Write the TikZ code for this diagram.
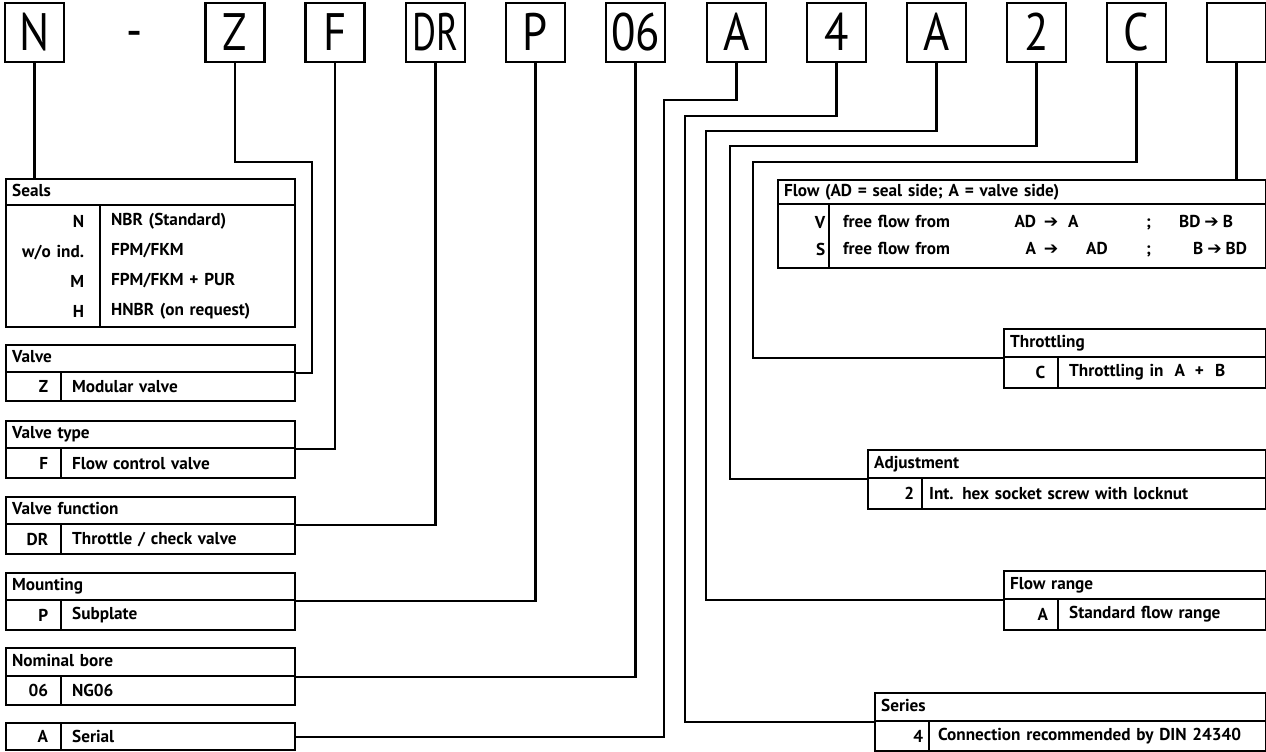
\documentclass[tikz,border=0pt]{standalone}
\usepackage{fontspec}
\usepackage{graphicx}
\setmainfont{PT Sans}
\newfontfamily\codefont[FakeStretch=0.85]{PT Sans}
\newfontfamily\arrowfont{DejaVu Sans}
\usetikzlibrary{positioning}
\newcommand{\rarr}{{\arrowfont ➔}}

\begin{document}
\begin{tikzpicture}[
    x=0.02cm, y=-0.02cm,
    codebox/.style={draw, line width=1.3pt, minimum width=1.18cm, minimum height=1.18cm, inner sep=0pt, font=\codefont\fontsize{30}{30}\selectfont, text height=21pt, text depth=0pt},
    headcell/.style={draw, line width=1.3pt, anchor=north west, inner xsep=0.12cm, inner ysep=0pt, align=left, text height=6.8pt, text depth=2pt, font=\bfseries\fontsize{9.8}{12}\selectfont},
    keycell/.style={draw, line width=1.3pt, anchor=north west, inner ysep=0pt, align=right, font=\bfseries\fontsize{9.8}{17}\selectfont},
    valcell/.style={draw, line width=1.3pt, anchor=north west, inner ysep=0pt, align=left, font=\bfseries\fontsize{9.8}{17}\selectfont},
    link/.style={line width=1.2pt}
]
\useasboundingbox (0,0) rectangle (1266,751);

% type code
\node[codebox] (bN) at (34.5,32.5) {N};
\node[codebox, draw=none] (dash) at (134.5,30) {-};
\node[codebox] (bZ) at (235,32.5) {Z};
\node[codebox] (bF) at (335,32.5) {F};
\node[codebox] (bDR) at (435.5,32.5) {\scalebox{0.82}[1]{DR}};
\node[codebox] (bP) at (535.5,32.5) {P};
\node[codebox] (b06) at (635.5,32.5) {06};
\node[codebox] (bA) at (736.5,32.5) {A};
\node[codebox] (b4) at (836.5,32.5) {4};
\node[codebox] (bAr) at (936.5,32.5) {A};
\node[codebox] (b2) at (1036.5,32.5) {2};
\node[codebox] (bC) at (1136.5,32.5) {C};
\node[codebox] (bX) at (1236.5,32.5) {};

% left tables
\node[headcell, text width=5.54cm, minimum height=0.52cm] (hseals) at (5,178) {Seals};
\node[keycell, text width=1.24cm, inner xsep=0.32cm, minimum height=2.44cm] (kseals) at (5,204) {N\\w/o ind.\\M\\H};
\node[valcell, text width=3.46cm, inner xsep=0.22cm, minimum height=2.44cm] (vseals) at (99,204) {NBR (Standard)\\FPM/FKM\\FPM/FKM + PUR\\HNBR (on request)};

\node[headcell, text width=5.54cm, minimum height=0.54cm] (hvalve) at (5,344) {Valve};
\node[keycell, text width=0.58cm, inner xsep=0.26cm, minimum height=0.58cm] (kvalve) at (5,371) {Z};
\node[valcell, text width=4.24cm, inner xsep=0.22cm, minimum height=0.58cm] (vvalve) at (60,371) {Modular valve};

\node[headcell, text width=5.54cm, minimum height=0.54cm] (hvtype) at (5,420) {Valve type};
\node[keycell, text width=0.58cm, inner xsep=0.26cm, minimum height=0.6cm] (kvtype) at (5,447) {F};
\node[valcell, text width=4.24cm, inner xsep=0.22cm, minimum height=0.6cm] (vvtype) at (60,447) {Flow control valve};

\node[headcell, text width=5.54cm, minimum height=0.54cm] (hvfunc) at (5,496) {Valve function};
\node[keycell, text width=0.58cm, inner xsep=0.26cm, minimum height=0.6cm] (kvfunc) at (5,523) {DR};
\node[valcell, text width=4.24cm, inner xsep=0.22cm, minimum height=0.6cm] (vvfunc) at (60,523) {Throttle / check valve};

\node[headcell, text width=5.54cm, minimum height=0.54cm] (hmount) at (5,572) {Mounting};
\node[keycell, text width=0.58cm, inner xsep=0.26cm, minimum height=0.6cm] (kmount) at (5,599) {P};
\node[valcell, text width=4.24cm, inner xsep=0.22cm, minimum height=0.6cm] (vmount) at (60,599) {Subplate};

\node[headcell, text width=5.54cm, minimum height=0.56cm] (hbore) at (5,647) {Nominal bore};
\node[keycell, text width=0.58cm, inner xsep=0.26cm, minimum height=0.58cm] (kbore) at (5,675) {06};
\node[valcell, text width=4.24cm, inner xsep=0.22cm, minimum height=0.58cm] (vbore) at (60,675) {NG06};

\node[keycell, text width=0.58cm, inner xsep=0.26cm, minimum height=0.54cm] (kserial) at (5,722) {A};
\node[valcell, text width=4.24cm, inner xsep=0.22cm, minimum height=0.54cm] (vserial) at (60,722) {Serial};

% right tables
\node[headcell, text width=9.52cm, minimum height=0.48cm] (hflow) at (777,179) {Flow (AD = seal side; A = valve side)};
\node[keycell, text width=0.86cm, inner xsep=0.08cm, minimum height=1.28cm, font=\bfseries\fontsize{9.8}{15.3}\selectfont] (kflow) at (777,203) {V\\S};
\node[valcell, text width=8.18cm, inner xsep=0.28cm, minimum height=1.28cm, font=\bfseries\fontsize{9.8}{15.3}\selectfont] (vflow) at (828,203)
  {\makebox[3.86cm][l]{free flow from\hfill AD}\makebox[0.6cm]{\rarr}\makebox[1.7cm][l]{\hspace{0.04cm}A\hfill;}\hspace{0.56cm}BD\hspace{0.08cm}\rarr\hspace{0.08cm}B\\
   \makebox[3.86cm][l]{free flow from\hfill A}\makebox[0.6cm]{\rarr}\makebox[1.7cm][l]{\hspace{0.4cm}AD\hfill;}\hspace{0.84cm}B\hspace{0.08cm}\rarr\hspace{0.08cm}BD};

\node[headcell, text width=5.0cm, minimum height=0.56cm] (hthr) at (1003,328) {Throttling};
\node[keycell, text width=0.56cm, inner xsep=0.26cm, minimum height=0.62cm] (kthr) at (1003,356) {C};
\node[valcell, text width=3.72cm, inner xsep=0.22cm, minimum height=0.62cm] (vthr) at (1057,356) {Throttling in\hspace{0.22cm}A\hspace{0.2cm}+\hspace{0.22cm}B};

\node[headcell, text width=7.72cm, minimum height=0.56cm] (hadj) at (867,449) {Adjustment};
\node[keycell, text width=0.76cm, inner xsep=0.16cm, minimum height=0.62cm] (kadj) at (867,477) {2};
\node[valcell, text width=6.6cm, inner xsep=0.14cm, minimum height=0.62cm] (vadj) at (921,477) {Int. hex socket screw with locknut};

\node[headcell, text width=5.0cm, minimum height=0.56cm] (hrange) at (1003,570) {Flow range};
\node[keycell, text width=0.68cm, inner xsep=0.2cm, minimum height=0.62cm] (krange) at (1003,598) {A};
\node[valcell, text width=3.72cm, inner xsep=0.22cm, minimum height=0.62cm] (vrange) at (1057,598) {Standard flow range};

\node[headcell, text width=7.58cm, minimum height=0.56cm] (hseries) at (874,692) {Series};
\node[keycell, text width=0.84cm, inner xsep=0.12cm, minimum height=0.6cm] (kseries) at (874,720) {4};
\node[valcell, text width=6.38cm, inner xsep=0.18cm, minimum height=0.6cm] (vseries) at (928,720) {Connection recommended by DIN 24340};

% bends
\coordinate (kZ) at (312,162);
\coordinate (kA) at (664,100);
\coordinate (k4) at (685,116);
\coordinate (kAr) at (706,131);
\coordinate (k2) at (730,146);
\coordinate (kC) at (753,162);

% connectors
\draw[link] (bN.south) -- (bN.south |- hseals.north);
\draw[link] (bZ.south) |- (kZ) |- (hvalve.south east);
\draw[link] (bF.south) |- (hvtype.south east);
\draw[link] (bDR.south) |- (hvfunc.south east);
\draw[link] (bP.south) |- (hmount.south east);
\draw[link] (b06.south) |- (hbore.south east);
\draw[link] (bA.south) |- (kA) |- (vserial.east);
\draw[link] (b4.south) |- (k4) |- (hseries.south west);
\draw[link] (bAr.south) |- (kAr) |- (hrange.south west);
\draw[link] (b2.south) |- (k2) |- (hadj.south west);
\draw[link] (bC.south) |- (kC) |- (hthr.south west);
\draw[link] (bX.south) -- (bX.south |- hflow.north);

\end{tikzpicture}
\end{document}
